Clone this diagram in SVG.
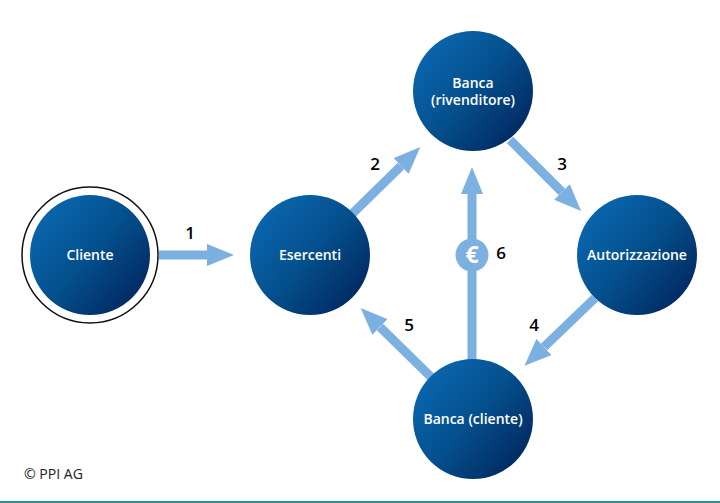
<svg xmlns="http://www.w3.org/2000/svg" width="720" height="503" viewBox="0 0 720 503">
<style>
.c{stroke:#7cb0e0;stroke-width:9;fill:none;marker-end:url(#a)}
.n{fill:url(#g)}
text{font-family:"Open Sans","Noto Sans",sans-serif}
.l{fill:#fff;font-size:14px;font-weight:600;text-anchor:middle}
.k{fill:#000;font-size:17px;font-weight:600;text-anchor:middle}
</style>
<defs>
<linearGradient id="g" x1="0.1" y1="0.15" x2="0.9" y2="0.85">
<stop offset="0" stop-color="#0a66ae"/><stop offset="0.5" stop-color="#044f8c"/><stop offset="1" stop-color="#022a62"/>
</linearGradient>
<marker id="a" markerUnits="userSpaceOnUse" markerWidth="28" markerHeight="24" refX="0" refY="12" orient="auto" viewBox="0 0 28 24"><path d="M0 1L27 12L0 23z" fill="#7cb0e0"/></marker>
</defs>
<rect width="720" height="503" fill="#fff"/>
<rect y="501" width="720" height="2" fill="#2e8f8a"/>
<g id="connectors">
<path class="c" d="M159 255H207"/>
<path class="c" d="M352 214L401 166"/>
<path class="c" d="M510 140L562 192"/>
<path class="c" d="M595 298L544 347"/>
<path class="c" d="M432 378L380 327"/>
<path class="c" d="M472 360V194"/>
</g>
<g id="euro"><circle cx="472" cy="255" r="16.500" fill="#7cb0e0"/><text x="472" y="263" font-size="23" font-weight="700" fill="#fff" text-anchor="middle">€</text></g>
<g id="cliente"><circle cx="90" cy="255" r="68" fill="#fff" stroke="#111" stroke-width="1.500"/><circle class="n" cx="90" cy="255" r="60"/><text class="l" x="90" y="260">Cliente</text></g>
<g id="esercenti"><circle class="n" cx="310" cy="255" r="60"/><text class="l" x="310" y="260">Esercenti</text></g>
<g id="banca-rivenditore"><circle class="n" cx="473" cy="91" r="60"/><text class="l" x="473" y="88">Banca</text><text class="l" x="473" y="105">(rivenditore)</text></g>
<g id="autorizzazione"><circle class="n" cx="637" cy="255" r="60"/><text class="l" x="637" y="260">Autorizzazione</text></g>
<g id="banca-cliente"><circle class="n" cx="473" cy="419" r="60"/><text class="l" x="473" y="424">Banca (cliente)</text></g>
<g id="labels">
<text class="k" x="190" y="239">1</text>
<text class="k" x="375" y="170">2</text>
<text class="k" x="562" y="170">3</text>
<text class="k" x="534" y="331">4</text>
<text class="k" x="409" y="331">5</text>
<text class="k" x="501" y="259">6</text>
</g>
<text x="24" y="479" font-size="15" fill="#222" textLength="59" lengthAdjust="spacingAndGlyphs">© PPI AG</text>
</svg>
